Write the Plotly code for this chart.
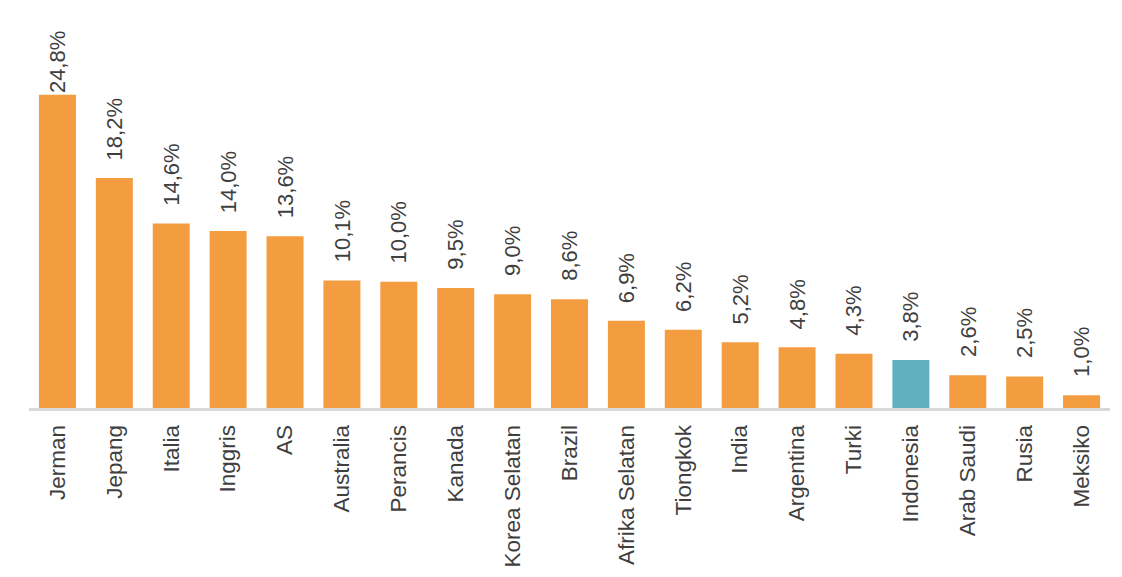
import plotly.graph_objects as go

countries = ["Jerman", "Jepang", "Italia", "Inggris", "AS", "Australia", "Perancis",
             "Kanada", "Korea Selatan", "Brazil", "Afrika Selatan", "Tiongkok", "India",
             "Argentina", "Turki", "Indonesia", "Arab Saudi", "Rusia", "Meksiko"]
values = [24.8, 18.2, 14.6, 14.0, 13.6, 10.1, 10.0, 9.5, 9.0, 8.6, 6.9, 6.2, 5.2,
          4.8, 4.3, 3.8, 2.6, 2.5, 1.0]
labels = ["24,8%", "18,2%", "14,6%", "14,0%", "13,6%", "10,1%", "10,0%", "9,5%", "9,0%",
          "8,6%", "6,9%", "6,2%", "5,2%", "4,8%", "4,3%", "3,8%", "2,6%", "2,5%", "1,0%"]
highlight = "Indonesia"

ORANGE = "#F39C40"
TEAL = "#62AFBF"
TEXT = "#3F3F3F"
FONT = "Liberation Sans, Arial"
colors = [TEAL if c == highlight else ORANGE for c in countries]

fig = go.Figure(go.Bar(x=countries, y=values, marker_color=colors,
                       marker_line_width=0, hoverinfo="skip"))

for c, v, t in zip(countries, values, labels):
    fig.add_annotation(x=c, y=v, text=t, textangle=-90, showarrow=False,
                       yanchor="bottom", xanchor="center",
                       yshift=0 if v > 20 else 16,
                       font=dict(family=FONT, size=22, color=TEXT))

fig.update_layout(
    width=1122, height=577,
    margin=dict(l=29, r=12, t=10, b=169),
    plot_bgcolor="white", paper_bgcolor="white",
    bargap=0.35, showlegend=False,
    font=dict(family=FONT, size=22, color=TEXT),
)
fig.update_xaxes(tickangle=-90, showline=True, linecolor="#D9D9D9", linewidth=3,
                 ticks="", ticklabelstandoff=5, showgrid=False,
                 tickfont=dict(family=FONT, size=22.5, color=TEXT))
fig.update_yaxes(visible=False, range=[0, 31.5], showgrid=False, zeroline=False)

fig.write_html("out.html")
